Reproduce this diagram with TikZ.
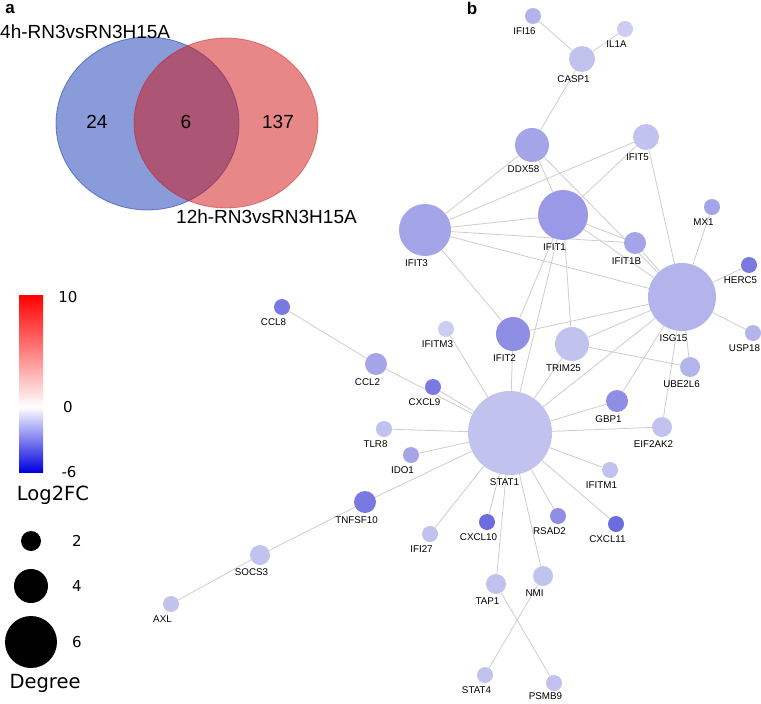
\documentclass[tikz,border=0pt]{standalone}
\usepackage{fontspec}
\setmainfont{Liberation Sans}
\newfontfamily\legendfont{DejaVu Sans}
\usetikzlibrary{backgrounds}

%% Colours
\definecolor{vennblue}{RGB}{20,55,178}
\definecolor{vennred}{RGB}{208,16,16}
\definecolor{edgegray}{RGB}{205,205,205}
\definecolor{legred}{RGB}{255,0,0}
\definecolor{legblue}{RGB}{0,0,222}
\definecolor{fcA}{RGB}{205,205,242}
\definecolor{fcB}{RGB}{194,194,239}
\definecolor{fcC}{RGB}{180,180,236}
\definecolor{fcD}{RGB}{164,164,233}
\definecolor{fcE}{RGB}{153,153,231}
\definecolor{fcF}{RGB}{142,142,229}
\definecolor{fcG}{RGB}{121,121,225}
\definecolor{fcH}{RGB}{108,108,222}

\begin{document}
\begin{tikzpicture}[x=1pt,y=-1pt,
		gene/.style={circle,inner sep=0pt,draw=none},
		glab/.style={font=\fontsize{9.8}{10}\selectfont,inner sep=0pt,xshift=-8.5pt,yshift=-3.5pt},
		link/.style={draw=edgegray,line width=0.8pt},
		venntext/.style={font=\fontsize{19}{22}\selectfont,inner sep=0pt},
		legtext/.style={font=\legendfont\fontsize{19.5}{22}\selectfont,inner sep=0pt},
		legnum/.style={font=\legendfont\fontsize{15}{18}\selectfont,inner sep=0pt},
		panel/.style={font=\bfseries\fontsize{17}{20}\selectfont,inner sep=0pt}]
		\useasboundingbox (0,0) rectangle (761,704);
		
		%% Panel a: Venn diagram
		\node[panel] (pa) at (10,9) {a};
		\fill[vennblue,fill opacity=0.5] (147.5,123.5) ellipse[x radius=91.5pt,y radius=86.5pt];
		\draw[vennblue,draw opacity=0.55,line width=0.8pt] (147.5,123.5) ellipse[x radius=91.5pt,y radius=86.5pt];
		\fill[vennred,fill opacity=0.5] (226,123) ellipse[x radius=92pt,y radius=85pt];
		\draw[vennred,draw opacity=0.45,line width=0.8pt] (226,123) ellipse[x radius=92pt,y radius=85pt];
		\node[venntext,anchor=base west] (setA) at (0,38) {4h-RN3vsRN3H15A};
		\node[venntext,anchor=base west] (setB) at (176,223) {12h-RN3vsRN3H15A};
		\node[venntext] (onlyA) at (97,122) {24};
		\node[venntext] (both) at (186,122) {6};
		\node[venntext] (onlyB) at (278,122) {137};
		
		%% Legend: colour bar
		\shade[top color=legred,bottom color=white] (19,295) rectangle (43,407);
		\shade[top color=white,bottom color=legblue] (19,407) rectangle (43,472);
		\node[legnum] (fcmax) at (68,297) {10};
		\node[legnum] (fczero) at (68,407) {0};
		\node[legnum] (fcmin) at (69,472) {-6};
		\node[legtext] (fctitle) at (53,495) {Log2FC};
		
		%% Legend: degree
		\fill[black] (31,541) circle[radius=10pt];
		\fill[black] (31,586) circle[radius=17pt];
		\fill[black] (31,642) circle[radius=26pt];
		\node[legnum] (degtwo) at (77,541) {2};
		\node[legnum] (degfour) at (77,586) {4};
		\node[legnum] (degsix) at (77,642) {6};
		\node[legtext] (degtitle) at (45,683) {Degree};
		
		%% Panel b: network
		\node[panel] (pb) at (472,8) {b};
		
		% Upper cluster
		\node[gene,fill=fcC,minimum size=16pt,label={[glab]below:IFI16}] (IFI16) at (533,16) {};
		\node[gene,fill=fcA,minimum size=16pt,label={[glab]below:IL1A}] (IL1A) at (625,29) {};
		\node[gene,fill=fcB,minimum size=26pt,label={[glab]below:CASP1}] (CASP1) at (582,59) {};
		\node[gene,fill=fcD,minimum size=34pt,label={[glab]below:DDX58}] (DDX58) at (532,145) {};
		\node[gene,fill=fcB,minimum size=26pt,label={[glab]below:IFIT5}] (IFIT5) at (646,137) {};
		\node[gene,fill=fcD,minimum size=16pt,label={[glab]below:MX1}] (MX1) at (712,207) {};
		\node[gene,fill=fcE,minimum size=50pt,label={[glab]below:IFIT1}] (IFIT1) at (563,215) {};
		\node[gene,fill=fcD,minimum size=52pt,label={[glab]below:IFIT3}] (IFIT3) at (425,230) {};
		\node[gene,fill=fcD,minimum size=22pt,label={[glab]below:IFIT1B}] (IFIT1B) at (635,243) {};
		\node[gene,fill=fcC,minimum size=68pt,label={[glab]below:ISG15}] (ISG15) at (682,297) {};
		\node[gene,fill=fcG,minimum size=16pt,label={[glab]below:HERC5}] (HERC5) at (749,265) {};
		\node[gene,fill=fcC,minimum size=16pt,label={[glab]below:USP18}] (USP18) at (753,333) {};
		\node[gene,fill=fcC,minimum size=20pt,label={[glab]below:UBE2L6}] (UBE2L6) at (690,367) {};
		\node[gene,fill=fcF,minimum size=34pt,label={[glab]below:IFIT2}] (IFIT2) at (513,334) {};
		\node[gene,fill=fcB,minimum size=34pt,label={[glab]below:TRIM25}] (TRIM25) at (572,344) {};
		\node[gene,fill=fcA,minimum size=16pt,label={[glab]below:IFITM3}] (IFITM3) at (446,329) {};
		\node[gene,fill=fcF,minimum size=22pt,label={[glab]below:GBP1}] (GBP1) at (617,401) {};
		\node[gene,fill=fcB,minimum size=20pt,label={[glab]below:EIF2AK2}] (EIF2AK2) at (662,427) {};
		
		% STAT1 and its neighbours
		\node[gene,fill=fcB,minimum size=84pt,label={[glab,xshift=3pt]below:STAT1}] (STAT1) at (510,433) {};
		\node[gene,fill=fcG,minimum size=16pt,label={[glab]below:CCL8}] (CCL8) at (282,307) {};
		\node[gene,fill=fcD,minimum size=22pt,label={[glab]below:CCL2}] (CCL2) at (376,364) {};
		\node[gene,fill=fcG,minimum size=16pt,label={[glab]below:CXCL9}] (CXCL9) at (433,387) {};
		\node[gene,fill=fcB,minimum size=16pt,label={[glab]below:TLR8}] (TLR8) at (384,429) {};
		\node[gene,fill=fcD,minimum size=16pt,label={[glab]below:IDO1}] (IDO1) at (411,455) {};
		\node[gene,fill=fcB,minimum size=16pt,label={[glab]below:IFITM1}] (IFITM1) at (610,470) {};
		\node[gene,fill=fcH,minimum size=16pt,label={[glab]below:CXCL11}] (CXCL11) at (616,524) {};
		\node[gene,fill=fcF,minimum size=16pt,label={[glab]below:RSAD2}] (RSAD2) at (558,516) {};
		\node[gene,fill=fcH,minimum size=16pt,label={[glab]below:CXCL10}] (CXCL10) at (487,522) {};
		\node[gene,fill=fcG,minimum size=22pt,label={[glab]below:TNFSF10}] (TNFSF10) at (365,502) {};
		\node[gene,fill=fcB,minimum size=16pt,label={[glab]below:IFI27}] (IFI27) at (430,534) {};
		\node[gene,fill=fcB,minimum size=20pt,label={[glab]below:SOCS3}] (SOCS3) at (260,555) {};
		\node[gene,fill=fcB,minimum size=16pt,label={[glab]below:AXL}] (AXL) at (171,604) {};
		\node[gene,fill=fcB,minimum size=20pt,label={[glab]below:TAP1}] (TAP1) at (496,584) {};
		\node[gene,fill=fcB,minimum size=20pt,label={[glab]below:NMI}] (NMI) at (543,576) {};
		\node[gene,fill=fcB,minimum size=16pt,label={[glab]below:STAT4}] (STAT4) at (485,675) {};
		\node[gene,fill=fcB,minimum size=16pt,label={[glab,yshift=2pt]below:PSMB9}] (PSMB9) at (554,683) {};
		
		%% Edges
		\begin{pgfonlayer}{background}
			\draw[link] (IFI16) -- (CASP1);
			\draw[link] (IL1A) -- (CASP1);
			\draw[link] (CASP1) -- (DDX58);
			\draw[link] (DDX58) -- (IFIT3);
			\draw[link] (DDX58) -- (IFIT1);
			\draw[link] (DDX58.center) -- (ISG15);
			\draw[link] (IFIT5) -- (IFIT3);
			\draw[link] (IFIT5) -- (IFIT1);
			\draw[link] (IFIT5) -- (ISG15);
			\draw[link] (IFIT3) -- (IFIT1);
			\draw[link] (IFIT3) -- (IFIT1B);
			\draw[link] (IFIT3) -- (ISG15);
			\draw[link] (IFIT3) -- (IFIT2);
			\draw[link] (IFIT1) -- (IFIT1B);
			\draw[link] (IFIT1) -- (ISG15);
			\draw[link] (IFIT1) -- (IFIT2);
			\draw[link] (IFIT1) -- (STAT1);
			\draw[link] (IFIT1) -- (TRIM25);
			\draw[link] (IFIT1B) -- (ISG15);
			\draw[link] (MX1) -- (ISG15);
			\draw[link] (HERC5) -- (ISG15);
			\draw[link] (USP18) -- (ISG15);
			\draw[link] (UBE2L6) -- (ISG15);
			\draw[link] (IFIT2) -- (ISG15);
			\draw[link] (IFIT2) -- (STAT1);
			\draw[link] (TRIM25) -- (ISG15);
			\draw[link] (TRIM25) -- (UBE2L6);
			\draw[link] (TRIM25) -- (STAT1);
			\draw[link] (ISG15) -- (STAT1);
			\draw[link] (ISG15) -- (GBP1);
			\draw[link] (ISG15) -- (EIF2AK2);
			\draw[link] (IFITM3) -- (STAT1);
			\draw[link] (GBP1) -- (STAT1);
			\draw[link] (EIF2AK2) -- (STAT1);
			\draw[link] (IFITM1) -- (STAT1);
			\draw[link] (CXCL11) -- (STAT1);
			\draw[link] (RSAD2) -- (STAT1);
			\draw[link] (NMI) -- (STAT1);
			\draw[link] (TAP1) -- (STAT1);
			\draw[link] (CXCL10) -- (STAT1);
			\draw[link] (IFI27) -- (STAT1);
			\draw[link] (TNFSF10) -- (STAT1);
			\draw[link] (IDO1) -- (STAT1);
			\draw[link] (TLR8) -- (STAT1);
			\draw[link] (CXCL9) -- (STAT1);
			\draw[link] (CCL2) -- (STAT1);
			\draw[link] (CCL8) -- (CCL2);
			\draw[link] (TNFSF10) -- (SOCS3);
			\draw[link] (SOCS3) -- (AXL);
			\draw[link] (TAP1) -- (PSMB9);
			\draw[link] (NMI) -- (STAT4);
		\end{pgfonlayer}
	\end{tikzpicture}
\end{document}
